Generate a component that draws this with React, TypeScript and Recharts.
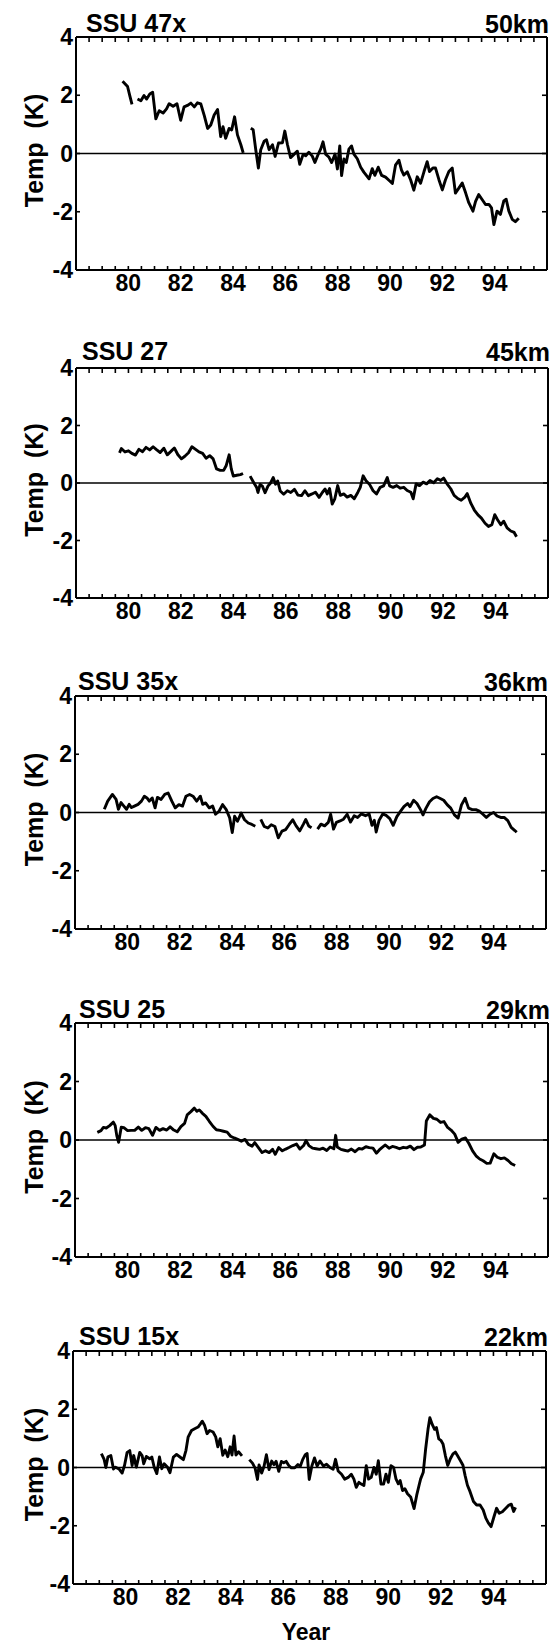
import React from 'react';
import { LineChart, Line, XAxis, YAxis, ReferenceLine } from 'recharts';

type Pt = [number, number | null];

const ssu47x: Pt[] = [
  [79.78, 2.48], [79.97, 2.3], [80.06, 1.97], [80.14, 1.69], [80.25, null],
  [80.35, 1.87], [80.48, 1.81], [80.6, 1.99], [80.7, 1.87], [80.82, 2.04], [80.93, 2.1],
  [81.05, 1.19], [81.18, 1.47], [81.33, 1.39], [81.46, 1.53], [81.56, 1.71], [81.71, 1.62],
  [81.86, 1.71], [82.0, 1.14], [82.13, 1.6], [82.26, 1.65], [82.39, 1.73], [82.52, 1.6],
  [82.64, 1.74], [82.77, 1.7], [82.9, 1.31], [83.03, 0.86], [83.15, 0.98], [83.28, 1.32],
  [83.41, 1.51], [83.53, 0.58], [83.62, 0.92], [83.72, 0.52], [83.85, 0.86], [83.95, 0.81],
  [84.06, 1.26], [84.17, 0.64], [84.3, 0.3], [84.39, 0.02], [84.5, null],
  [84.68, 0.87], [84.77, 0.82], [84.87, 0.13], [84.97, -0.5], [85.06, 0.13], [85.19, 0.42],
  [85.28, 0.47], [85.38, 0.13], [85.51, 0.3], [85.61, -0.1], [85.74, 0.36], [85.89, 0.37],
  [85.98, 0.77], [86.08, 0.31], [86.2, -0.14], [86.33, -0.03], [86.46, 0.08], [86.55, -0.37],
  [86.68, -0.03], [86.78, -0.08], [86.9, 0.04], [87.03, -0.09], [87.13, -0.31], [87.26, -0.02],
  [87.35, 0.15], [87.44, 0.4], [87.54, -0.02], [87.67, -0.13], [87.77, -0.31], [87.9, -0.02],
  [87.99, -0.53], [88.08, 0.26], [88.15, -0.76], [88.24, -0.19], [88.33, -0.31], [88.43, 0.15],
  [88.53, 0.26], [88.62, -0.02], [88.75, -0.18], [88.88, -0.47], [89.0, -0.64], [89.2, -0.87],
  [89.32, -0.52], [89.42, -0.75], [89.55, -0.47], [89.68, -0.75], [89.83, -0.81], [89.96, -0.92],
  [90.09, -1.03], [90.21, -0.4], [90.34, -0.23], [90.44, -0.57], [90.53, -0.74], [90.66, -0.63],
  [90.79, -0.91], [90.91, -1.26], [91.04, -0.8], [91.17, -1.02], [91.3, -0.62], [91.42, -0.28],
  [91.51, -0.62], [91.64, -0.5], [91.74, -0.5], [91.87, -0.9], [92.0, -1.25], [92.12, -0.9],
  [92.25, -0.62], [92.38, -0.5], [92.5, -1.36], [92.63, -1.19], [92.76, -1.01], [92.89, -1.35],
  [93.01, -1.69], [93.17, -1.98], [93.27, -1.64], [93.39, -1.41], [93.52, -1.58], [93.65, -1.75],
  [93.78, -1.75], [93.88, -1.87], [93.97, -2.44], [94.09, -1.98], [94.22, -2.09], [94.35, -1.63],
  [94.44, -1.57], [94.54, -1.97], [94.67, -2.26], [94.79, -2.34], [94.92, -2.22],
];

const ssu27: Pt[] = [
  [79.66, 1.05], [79.73, 1.2], [79.87, 1.08], [80.0, 1.12], [80.13, 1.03], [80.27, 0.97],
  [80.4, 1.17], [80.54, 1.09], [80.67, 1.24], [80.81, 1.15], [80.94, 1.26], [81.08, 1.15],
  [81.21, 1.06], [81.35, 1.21], [81.48, 0.98], [81.62, 1.1], [81.75, 1.22], [81.88, 0.99],
  [82.02, 0.84], [82.15, 0.93], [82.29, 1.05], [82.42, 1.26], [82.56, 1.17], [82.69, 1.08],
  [82.83, 1.03], [82.96, 0.86], [83.1, 0.95], [83.23, 0.84], [83.36, 0.49], [83.5, 0.44],
  [83.63, 0.44], [83.73, 0.61], [83.84, 0.98], [83.92, 0.5], [84.0, 0.24], [84.13, 0.27],
  [84.27, 0.29], [84.37, 0.33], [84.5, null],
  [84.64, 0.24], [84.78, 0.01], [84.89, -0.16], [84.94, -0.33], [85.02, -0.05], [85.11, -0.11],
  [85.21, -0.34], [85.32, -0.11], [85.42, 0.0], [85.52, 0.19], [85.61, -0.04], [85.69, 0.07],
  [85.79, -0.28], [85.92, -0.39], [86.06, -0.27], [86.19, -0.33], [86.33, -0.22], [86.46, -0.42],
  [86.6, -0.44], [86.73, -0.27], [86.86, -0.44], [87.0, -0.38], [87.13, -0.32], [87.27, -0.5],
  [87.4, -0.32], [87.5, -0.21], [87.58, -0.38], [87.67, -0.19], [87.77, -0.73], [87.87, -0.55],
  [87.98, -0.09], [88.08, -0.43], [88.21, -0.38], [88.34, -0.49], [88.48, -0.43], [88.61, -0.55],
  [88.75, -0.32], [88.84, -0.15], [88.95, 0.25], [89.06, 0.08], [89.19, -0.04], [89.33, -0.27],
  [89.46, -0.38], [89.6, -0.15], [89.73, -0.1], [89.87, 0.19], [89.96, -0.1], [90.09, -0.15],
  [90.23, -0.09], [90.36, -0.18], [90.5, -0.15], [90.63, -0.26], [90.77, -0.32], [90.86, -0.55],
  [90.97, -0.03], [91.1, -0.09], [91.24, 0.03], [91.37, -0.03], [91.5, 0.09], [91.64, 0.01],
  [91.78, 0.15], [91.91, 0.09], [92.02, 0.17], [92.15, -0.03], [92.29, -0.2], [92.42, -0.43],
  [92.56, -0.54], [92.69, -0.6], [92.83, -0.49], [92.92, -0.37], [93.06, -0.71], [93.19, -0.94],
  [93.33, -1.11], [93.46, -1.22], [93.6, -1.4], [93.73, -1.51], [93.86, -1.45], [93.97, -1.1],
  [94.07, -1.27], [94.2, -1.45], [94.31, -1.33], [94.44, -1.56], [94.58, -1.67], [94.71, -1.72],
  [94.8, -1.87],
];

const ssu35x: Pt[] = [
  [79.12, 0.11], [79.25, 0.39], [79.43, 0.62], [79.57, 0.45], [79.66, 0.11], [79.76, 0.34],
  [79.86, 0.23], [79.97, 0.11], [80.07, 0.28], [80.16, 0.17], [80.27, 0.22], [80.41, 0.28],
  [80.54, 0.39], [80.65, 0.56], [80.75, 0.5], [80.84, 0.39], [80.95, 0.5], [81.06, 0.16],
  [81.15, 0.52], [81.29, 0.45], [81.43, 0.62], [81.56, 0.67], [81.7, 0.39], [81.83, 0.16],
  [81.97, 0.27], [82.11, 0.22], [82.24, 0.56], [82.38, 0.62], [82.51, 0.56], [82.65, 0.39],
  [82.79, 0.56], [82.88, 0.28], [82.99, 0.33], [83.13, 0.16], [83.26, 0.22], [83.37, -0.06],
  [83.51, 0.05], [83.64, 0.27], [83.78, 0.1], [83.91, -0.18], [84.01, -0.69], [84.1, -0.13],
  [84.21, -0.3], [84.35, -0.02], [84.48, -0.25], [84.62, -0.36], [84.76, -0.41], [84.89, -0.47],
  [85.0, null],
  [85.1, -0.24], [85.23, -0.48], [85.37, -0.53], [85.5, -0.42], [85.64, -0.48], [85.77, -0.87],
  [85.91, -0.64], [86.05, -0.59], [86.18, -0.42], [86.32, -0.25], [86.45, -0.46], [86.59, -0.63],
  [86.73, -0.4], [86.82, -0.24], [86.93, -0.46], [87.04, -0.52], [87.15, null],
  [87.27, -0.57], [87.4, -0.4], [87.54, -0.46], [87.68, -0.34], [87.77, -0.06], [87.88, -0.57],
  [87.99, -0.34], [88.13, -0.29], [88.26, -0.23], [88.4, -0.06], [88.53, -0.33], [88.67, -0.11],
  [88.8, -0.17], [88.94, -0.05], [89.1, -0.11], [89.24, -0.05], [89.35, -0.44], [89.44, -0.27],
  [89.51, -0.67], [89.62, -0.27], [89.76, -0.05], [89.89, -0.1], [90.03, -0.21], [90.16, -0.44],
  [90.3, -0.14], [90.43, 0.03], [90.57, 0.2], [90.71, 0.31], [90.8, 0.2], [90.94, 0.42],
  [91.07, 0.31], [91.21, 0.09], [91.3, -0.08], [91.41, 0.14], [91.55, 0.37], [91.68, 0.48],
  [91.82, 0.54], [91.96, 0.48], [92.09, 0.42], [92.23, 0.26], [92.36, 0.15], [92.5, -0.08],
  [92.64, -0.19], [92.77, 0.26], [92.91, 0.49], [93.04, 0.15], [93.18, 0.1], [93.32, 0.1],
  [93.45, 0.05], [93.59, -0.06], [93.72, -0.17], [93.86, -0.06], [94.0, 0.0], [94.13, -0.12],
  [94.27, -0.17], [94.4, -0.17], [94.54, -0.28], [94.67, -0.51], [94.81, -0.62], [94.88, -0.68],
];

const ssu25: Pt[] = [
  [78.85, 0.26], [78.99, 0.32], [79.08, 0.43], [79.19, 0.41], [79.32, 0.49], [79.46, 0.61],
  [79.53, 0.49], [79.59, 0.15], [79.66, -0.08], [79.76, 0.44], [79.86, 0.42], [80.0, 0.32],
  [80.14, 0.33], [80.27, 0.33], [80.41, 0.44], [80.54, 0.33], [80.68, 0.42], [80.81, 0.39],
  [80.95, 0.16], [81.08, 0.43], [81.22, 0.33], [81.35, 0.39], [81.49, 0.34], [81.62, 0.45],
  [81.76, 0.34], [81.89, 0.28], [82.03, 0.46], [82.17, 0.57], [82.27, 0.86], [82.41, 0.97],
  [82.54, 1.09], [82.64, 0.98], [82.73, 1.03], [82.84, 0.92], [82.98, 0.81], [83.11, 0.64],
  [83.25, 0.47], [83.38, 0.35], [83.52, 0.33], [83.65, 0.3], [83.79, 0.27], [83.92, 0.13],
  [84.06, 0.07], [84.19, 0.02], [84.33, -0.04], [84.47, 0.02], [84.6, -0.15], [84.74, -0.21],
  [84.84, -0.09], [84.98, -0.26], [85.12, -0.43], [85.25, -0.37], [85.39, -0.43], [85.52, -0.32],
  [85.62, -0.49], [85.75, -0.26], [85.89, -0.37], [86.02, -0.31], [86.16, -0.25], [86.29, -0.19],
  [86.43, -0.14], [86.56, -0.31], [86.7, -0.19], [86.79, -0.02], [86.9, -0.19], [87.04, -0.28],
  [87.17, -0.3], [87.31, -0.32], [87.44, -0.28], [87.58, -0.36], [87.71, -0.24], [87.85, -0.3],
  [87.92, 0.16], [87.98, -0.24], [88.12, -0.32], [88.25, -0.35], [88.39, -0.38], [88.52, -0.31],
  [88.66, -0.4], [88.8, -0.29], [88.93, -0.31], [89.07, -0.23], [89.2, -0.26], [89.34, -0.28],
  [89.47, -0.45], [89.58, -0.34], [89.68, -0.26], [89.81, -0.17], [89.95, -0.28], [90.08, -0.22],
  [90.22, -0.25], [90.35, -0.3], [90.49, -0.25], [90.62, -0.27], [90.76, -0.21], [90.9, -0.33],
  [91.03, -0.25], [91.16, -0.24], [91.3, -0.17], [91.37, 0.65], [91.5, 0.86], [91.64, 0.74],
  [91.77, 0.71], [91.91, 0.6], [92.04, 0.63], [92.18, 0.43], [92.31, 0.34], [92.45, 0.2],
  [92.58, -0.08], [92.72, 0.03], [92.86, 0.07], [92.99, -0.12], [93.13, -0.37], [93.26, -0.54],
  [93.4, -0.65], [93.53, -0.71], [93.67, -0.8], [93.8, -0.79], [93.94, -0.47], [94.07, -0.59],
  [94.21, -0.64], [94.34, -0.61], [94.48, -0.7], [94.61, -0.81], [94.75, -0.87],
];

const ssu15x: Pt[] = [
  [79.08, 0.48], [79.18, 0.29], [79.25, 0.0], [79.33, 0.37], [79.44, 0.41], [79.54, -0.05],
  [79.62, 0.01], [79.75, -0.05], [79.87, -0.19], [79.96, 0.07], [80.06, 0.52], [80.16, 0.58],
  [80.25, 0.07], [80.31, 0.41], [80.41, 0.01], [80.54, 0.52], [80.63, 0.41], [80.69, 0.13],
  [80.79, 0.38], [80.92, 0.3], [81.0, 0.36], [81.09, 0.01], [81.19, -0.21], [81.29, 0.36],
  [81.38, -0.04], [81.47, 0.13], [81.59, 0.02], [81.69, -0.18], [81.82, 0.36], [81.94, 0.45],
  [82.07, 0.36], [82.2, 0.27], [82.3, 0.59], [82.38, 1.04], [82.51, 1.27], [82.63, 1.33],
  [82.76, 1.39], [82.85, 1.5], [82.92, 1.59], [83.01, 1.44], [83.1, 1.16], [83.2, 1.27],
  [83.33, 1.22], [83.43, 1.05], [83.51, 0.71], [83.6, 0.99], [83.7, 0.42], [83.79, 0.6],
  [83.89, 0.37], [83.98, 0.71], [84.05, 0.43], [84.13, 1.08], [84.2, 0.43], [84.3, 0.54],
  [84.43, 0.4], [84.57, null],
  [84.71, 0.27], [84.83, 0.15], [84.93, -0.02], [85.02, -0.41], [85.08, 0.09], [85.18, -0.19],
  [85.27, 0.04], [85.36, 0.44], [85.46, -0.07], [85.56, 0.22], [85.65, 0.1], [85.73, 0.21],
  [85.83, -0.13], [85.93, 0.21], [86.02, 0.16], [86.11, 0.21], [86.21, 0.07], [86.31, -0.01],
  [86.44, -0.01], [86.56, 0.1], [86.65, 0.04], [86.74, 0.27], [86.84, 0.44], [86.91, 0.48],
  [86.99, -0.41], [87.09, 0.05], [87.19, 0.33], [87.29, 0.05], [87.4, 0.22], [87.53, 0.05],
  [87.65, 0.11], [87.78, 0.0], [87.9, -0.06], [87.99, 0.28], [88.09, -0.12], [88.22, -0.23],
  [88.34, -0.4], [88.47, -0.34], [88.59, -0.23], [88.69, -0.4], [88.78, -0.68], [88.88, -0.51],
  [88.97, -0.57], [89.07, -0.62], [89.16, 0.06], [89.25, -0.4], [89.35, -0.34], [89.45, 0.0],
  [89.54, -0.23], [89.62, 0.23], [89.72, -0.57], [89.82, -0.57], [89.91, -0.23], [90.0, -0.51],
  [90.1, 0.06], [90.2, 0.0], [90.29, -0.39], [90.38, -0.56], [90.45, -0.45], [90.54, -0.79],
  [90.63, -0.73], [90.73, -0.9], [90.85, -1.01], [90.98, -1.41], [91.08, -0.95], [91.17, -0.61],
  [91.23, -0.39], [91.33, -0.16], [91.42, 0.64], [91.51, 1.31], [91.58, 1.71], [91.67, 1.48],
  [91.76, 1.31], [91.83, 1.37], [91.92, 0.98], [92.01, 0.92], [92.08, 0.81], [92.17, 0.41],
  [92.26, 0.07], [92.36, 0.3], [92.46, 0.47], [92.55, 0.53], [92.63, 0.41], [92.74, 0.24],
  [92.84, 0.08], [92.92, -0.27], [93.01, -0.61], [93.11, -0.83], [93.24, -1.17], [93.36, -1.29],
  [93.49, -1.29], [93.61, -1.46], [93.71, -1.74], [93.81, -1.91], [93.91, -2.03], [94.02, -1.69],
  [94.12, -1.4], [94.22, -1.57], [94.34, -1.52], [94.47, -1.4], [94.59, -1.29], [94.68, -1.26],
  [94.77, -1.51], [94.84, -1.37],
];

const seriesList: Pt[][] = [ssu47x, ssu27, ssu35x, ssu25, ssu15x];
const instrumentNames = ['SSU 47x', 'SSU 27', 'SSU 35x', 'SSU 25', 'SSU 15x'];
const altitudeNames = ['50km', '45km', '36km', '29km', '22km'];

const yearLabels = [80, 82, 84, 86, 88, 90, 92, 94];
const halfYearTicks = [
  78.5, 79, 79.5, 80, 80.5, 81, 81.5, 82, 82.5, 83, 83.5, 84, 84.5, 85, 85.5, 86, 86.5,
  87, 87.5, 88, 88.5, 89, 89.5, 90, 90.5, 91, 91.5, 92, 92.5, 93, 93.5, 94, 94.5, 95, 95.5,
];
const tempTicks = [-4, -2, 0, 2, 4];
const innerTempTicks = [-2, 0, 2];

// panel geometry (pixels)
const layout = [
  { top: 37, bottom: 270, left: 76, right: 547, titleX: 86, titleY: 32 },
  { top: 368, bottom: 598, left: 76, right: 548, titleX: 82, titleY: 360 },
  { top: 696, bottom: 929, left: 75, right: 546, titleX: 78, titleY: 690 },
  { top: 1023, bottom: 1257, left: 75, right: 548, titleX: 79, titleY: 1018 },
  { top: 1351, bottom: 1584, left: 73, right: 546, titleX: 79, titleY: 1345 },
];

const FONT = '"Liberation Sans", Arial, Helvetica, sans-serif';
const CH = 330;
const TOPM = 40;
const tickStyle = { fontSize: 23, fontWeight: 700, fill: '#000', fontFamily: FONT };
const axisLineStyle = { stroke: '#000', strokeWidth: 2 };
const tickLineStyle = { stroke: '#000', strokeWidth: 1.6 };
const EmptyTick = () => <g />;

function Panel({ data, l }: { data: Pt[]; l: typeof layout[number] }) {
  const plotH = l.bottom - l.top;
  const rows = data.map(([year, t]) => ({ year, t }));
  return (
    <div style={{ position: 'absolute', left: 0, top: l.top - TOPM }}>
      <LineChart
        width={556}
        height={CH}
        data={rows}
        margin={{ top: TOPM, left: l.left - 40, right: 556 - l.right, bottom: CH - TOPM - plotH - 30 }}
      >
        <XAxis
          xAxisId="main"
          dataKey="year"
          type="number"
          domain={[78, 96]}
          allowDataOverflow
          ticks={yearLabels}
          interval={0}
          tickLine={false}
          tickSize={0}
          tickMargin={5}
          height={30}
          axisLine={axisLineStyle}
          tick={tickStyle}
        />
        <XAxis
          xAxisId="bm"
          dataKey="year"
          type="number"
          domain={[78, 96]}
          allowDataOverflow
          orientation="bottom"
          mirror
          ticks={halfYearTicks}
          interval={0}
          tick={EmptyTick}
          axisLine={false}
          tickLine={tickLineStyle}
          tickSize={4}
        />
        <XAxis
          xAxisId="top"
          dataKey="year"
          type="number"
          domain={[78, 96]}
          allowDataOverflow
          orientation="top"
          mirror
          ticks={halfYearTicks}
          interval={0}
          tick={EmptyTick}
          axisLine={axisLineStyle}
          tickLine={tickLineStyle}
          tickSize={5}
        />
        <YAxis
          yAxisId="main"
          dataKey="t"
          type="number"
          domain={[-4, 4]}
          allowDataOverflow
          ticks={tempTicks}
          interval={0}
          width={40}
          tickLine={false}
          tickSize={0}
          tickMargin={3}
          axisLine={axisLineStyle}
          tick={tickStyle}
        />
        <YAxis
          yAxisId="lm"
          dataKey="t"
          type="number"
          domain={[-4, 4]}
          allowDataOverflow
          orientation="left"
          mirror
          ticks={innerTempTicks}
          interval={0}
          tick={EmptyTick}
          axisLine={false}
          tickLine={tickLineStyle}
          tickSize={4}
        />
        <YAxis
          yAxisId="rm"
          dataKey="t"
          type="number"
          domain={[-4, 4]}
          allowDataOverflow
          orientation="right"
          mirror
          ticks={innerTempTicks}
          interval={0}
          tick={EmptyTick}
          axisLine={axisLineStyle}
          tickLine={tickLineStyle}
          tickSize={5}
        />
        <ReferenceLine xAxisId="main" yAxisId="main" y={0} stroke="#000" strokeWidth={1.6} />
        <Line
          xAxisId="main"
          yAxisId="main"
          type="linear"
          dataKey="t"
          stroke="#000"
          strokeWidth={2.9}
          strokeLinejoin="round"
          dot={false}
          activeDot={false}
          connectNulls={false}
          isAnimationActive={false}
        />
      </LineChart>
    </div>
  );
}

export default function App() {
  return (
    <div style={{ position: 'absolute', left: 0, top: 0, width: 556, height: 1650, background: '#fff' }}>
      {seriesList.map((s, i) => (
        <Panel key={i} data={s} l={layout[i]} />
      ))}
      <svg
        width={556}
        height={1650}
        style={{ position: 'absolute', left: 0, top: 0, pointerEvents: 'none' }}
        fontFamily={FONT}
        fontWeight={700}
        fill="#000"
      >
        {layout.map((l, i) => (
          <g key={i}>
            <text x={l.titleX} y={l.titleY} fontSize={25}>
              {instrumentNames[i]}
            </text>
            <text x={l.right + 2} y={l.titleY + 1} fontSize={25} textAnchor="end">
              {altitudeNames[i]}
            </text>
            <text
              transform={`translate(34, ${(l.top + l.bottom) / 2 - 3}) rotate(-90)`}
              textAnchor="middle"
              dominantBaseline="central"
              fontSize={25}
            >
              {'Temp\u00A0\u00A0(K)'}
            </text>
          </g>
        ))}
        <text x={306} y={1640} fontSize={23} textAnchor="middle">
          Year
        </text>
      </svg>
    </div>
  );
}
